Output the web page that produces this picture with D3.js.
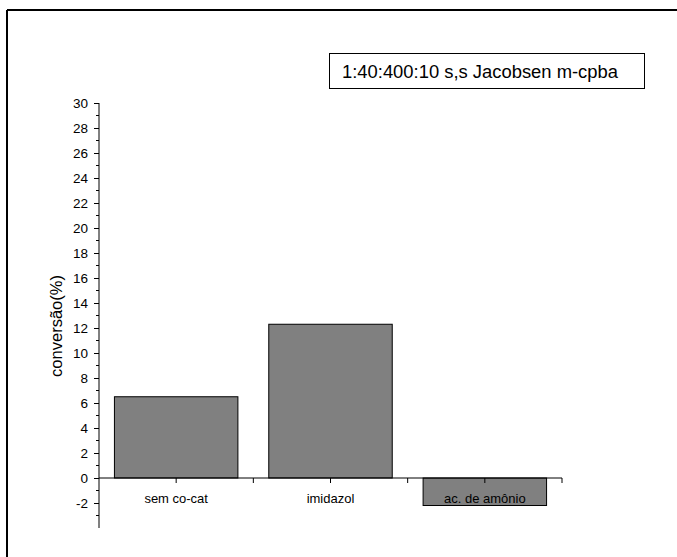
<!DOCTYPE html>
<html><head><meta charset="utf-8">
<script src="https://cdn.jsdelivr.net/npm/d3@7"></script>
<style>body{margin:0;background:#fff}svg{display:block}text{font-family:"Liberation Sans",Arial,sans-serif}</style>
</head><body>
<script>
const categories = ["sem co-cat", "imidazol", "ac. de amônio"];
const values = [6.5, 12.3, -2.2];
const yMajorTicks = [-2,0,2,4,6,8,10,12,14,16,18,20,22,24,26,28,30];
const yMinorTicks = [-3,-1,1,3,5,7,9,11,13,15,17,19,21,23,25,27,29];
const legendText = "1:40:400:10 s,s Jacobsen m-cpba";
const yTitle = "conversão(%)";

const W = 677, H = 557;
const FONT = '"Liberation Sans",Arial,sans-serif';
const svg = d3.select("body").append("svg").attr("width", W).attr("height", H);

// outer frame (top and left)
svg.append("line").attr("x1",7).attr("x2",W).attr("y1",10).attr("y2",10).attr("stroke","#000").attr("stroke-width",2);
svg.append("line").attr("x1",7).attr("x2",7).attr("y1",10).attr("y2",H).attr("stroke","#000").attr("stroke-width",2);

const x0 = 99, x1 = 562;
const y = d3.scaleLinear().domain([-4, 30]).range([528, 103]);
const x = d3.scaleBand().domain(categories).range([x0, x1]).paddingInner(0.2).paddingOuter(0.1);
const xb = d3.scaleBand().domain(categories).range([x0, x1]);

// bars
svg.selectAll("rect.bar").data(values).enter().append("rect")
  .attr("x", (d,i) => x(categories[i]))
  .attr("width", x.bandwidth())
  .attr("y", d => y(Math.max(0,d)))
  .attr("height", d => Math.abs(y(d) - y(0)))
  .attr("fill", "#808080").attr("stroke", "#000").attr("stroke-width", 1);

// y axis
const ya = svg.append("g").attr("transform", `translate(${x0},0)`)
  .call(d3.axisLeft(y).tickValues(yMajorTicks).tickSize(5).tickPadding(6).tickFormat(d => String(d)));
ya.select(".domain").attr("d", `M0,${y(-4)}V${y(30)}`);
ya.selectAll("text").attr("font-size", 13.5).attr("font-family", FONT).attr("fill","#000");
ya.append("g").selectAll("line").data(yMinorTicks).enter().append("line")
  .attr("x1", -3).attr("x2", 0).attr("y1", d => y(d)).attr("y2", d => y(d)).attr("stroke", "#000");

// x axis at zero
const xa = svg.append("g").attr("transform", `translate(0,${y(0)})`)
  .call(d3.axisBottom(xb).tickSize(5).tickPadding(11));
xa.select(".domain").attr("d", `M${x0},0H${x1}`);
xa.selectAll("text").attr("font-size", 13).attr("font-family", FONT).attr("fill","#000");
// boundary ticks
xa.append("g").selectAll("line").data(categories).enter().append("line")
  .attr("x1", d => xb(d) + xb.bandwidth()).attr("x2", d => xb(d) + xb.bandwidth())
  .attr("y1", 0).attr("y2", 5).attr("stroke", "#000");

// y title
svg.append("text").attr("transform", "translate(62,326) rotate(-90)")
  .attr("text-anchor", "middle").attr("font-size", 16.5).text(yTitle);

// legend
svg.append("rect").attr("x", 329.5).attr("y", 53.5).attr("width", 315).attr("height", 35)
  .attr("fill", "#fff").attr("stroke", "#000");
svg.append("text").attr("x", 342).attr("y", 77.5).attr("font-size", 17.5)
  .attr("textLength", 276).attr("lengthAdjust", "spacingAndGlyphs").text(legendText);
</script>
</body></html>
